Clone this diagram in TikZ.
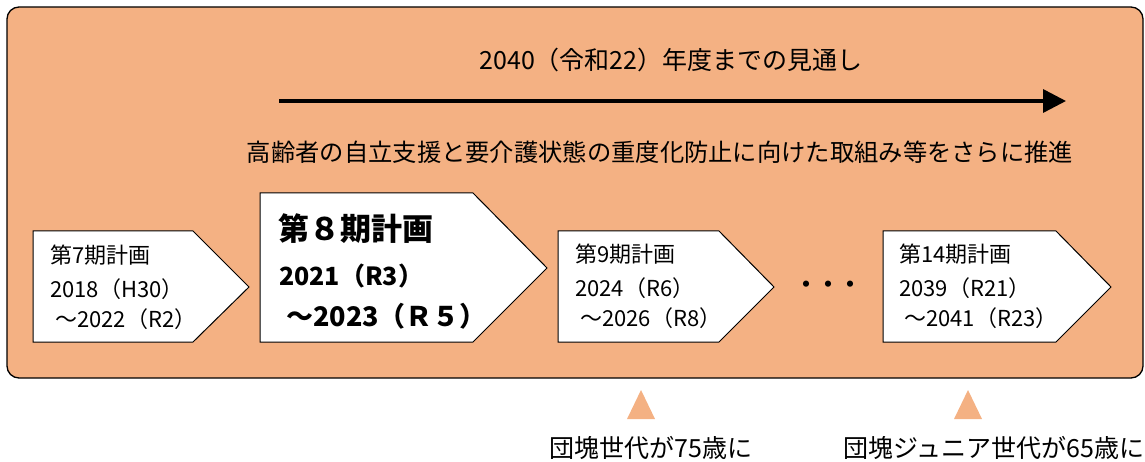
\documentclass[tikz,border=0pt]{standalone}
\usepackage{fontspec}
\setmainfont{Noto Sans CJK JP}
\usetikzlibrary{arrows.meta}
\definecolor{salmon}{HTML}{F4B183}
\begin{document}
\begin{tikzpicture}[x=1pt,y=-1pt,
  frame/.style={draw=black, fill=salmon, line width=1.3pt, rounded corners=12pt},
  pent/.style={draw=black, fill=white, line width=1pt},
  small/.style={anchor=west, inner sep=0pt, font=\fontsize{22}{22}\selectfont},
  bigA/.style={anchor=west, inner sep=0pt, font=\fontsize{31}{31}\selectfont\bfseries},
  bigB/.style={anchor=west, inner sep=0pt, font=\fontsize{25}{25}\selectfont\bfseries},
  bigC/.style={anchor=west, inner sep=0pt, font=\fontsize{27}{27}\selectfont\bfseries},
  head/.style={inner sep=0pt, font=\fontsize{25}{25}\selectfont},
  note/.style={inner sep=0pt, font=\fontsize{25}{25}\selectfont},
  marker/.style={fill=salmon, draw=none},
  timeline/.style={line width=3.5pt, -{Triangle[length=23pt,width=23pt]}}]
\useasboundingbox (0,0) rectangle (1145,462);
\draw[frame] (7,7) rectangle (1143,378);

\node[head] (title) at (671,60) {2040（令和22）年度までの見通し};
\coordinate (arrS) at (279,101);
\coordinate (arrE) at (1066,101);
\draw[timeline] (arrS) -- (arrE);
\node[head, font=\fontsize{24.3}{24.3}\selectfont] (goal) at (660,152) {高齢者の自立支援と要介護状態の重度化防止に向けた取組み等をさらに推進};

% plan 7
\draw[pent] (33,231) -- (193,231) -- (249,287) -- (193,342) -- (33,342) -- cycle;
\node[small] (p7a) at (50,255) {第7期計画};
\node[small] (p7b) at (50,289) {2018（H30）};
\node[small] (p7c) at (55,319) {～2022（R2）};

% plan 8
\draw[pent] (260,193) -- (473,193) -- (547,268) -- (473,342) -- (260,342) -- cycle;
\node[bigA] (p8a) at (278,229) {第８期計画};
\node[bigB] (p8b) at (279,276) {2021（R3）};
\node[bigC] (p8c) at (286,316) {～2023（Ｒ５）};

% plan 9
\draw[pent] (558,231) -- (719,231) -- (774,287) -- (719,342) -- (558,342) -- cycle;
\node[small] (p9a) at (575,254) {第9期計画};
\node[small] (p9b) at (575,288) {2024（R6）};
\node[small] (p9c) at (580,318) {～2026（R8）};

\node[font=\fontsize{22}{22}\selectfont\bfseries, inner sep=0pt] (dots) at (828,287) {・・・};

% plan 14
\draw[pent] (883,231) -- (1056,231) -- (1111,287) -- (1056,342) -- (883,342) -- cycle;
\node[small] (p14a) at (899,254) {第14期計画};
\node[small] (p14b) at (899,288) {2039（R21）};
\node[small] (p14c) at (904,318) {～2041（R23）};

% markers
\fill[marker] (627,419) -- (655,419) -- (641,390) -- cycle;
\fill[marker] (954,419) -- (982,419) -- (968,390) -- cycle;
\node[note] (m1) at (651,448) {団塊世代が75歳に};
\node[note] (m2) at (994,448) {団塊ジュニア世代が65歳に};
\end{tikzpicture}
\end{document}
